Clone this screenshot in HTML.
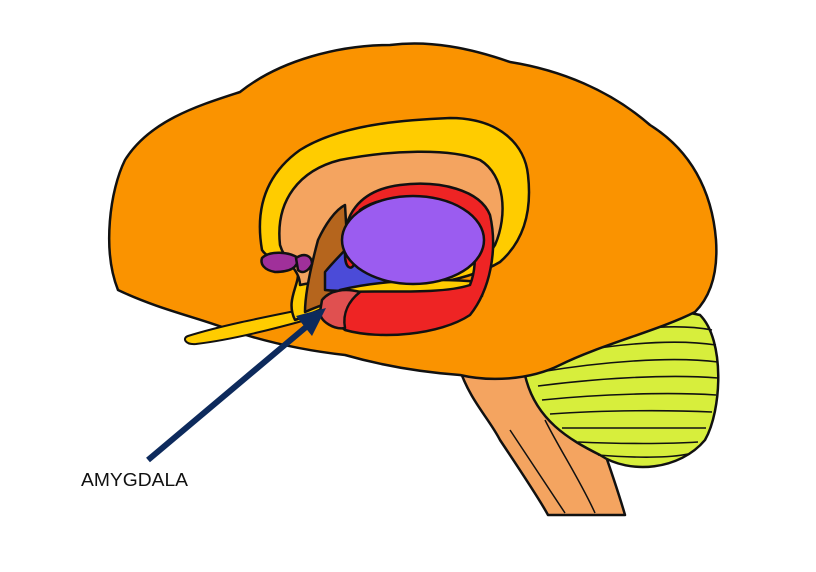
<!DOCTYPE html>
<html><head><style>body{margin:0;background:#fff}svg{display:block}</style></head><body>
<svg width="816" height="572" viewBox="0 0 816 572" xmlns="http://www.w3.org/2000/svg" stroke="#111" stroke-width="2.5" stroke-linejoin="round">
<!-- brainstem -->
<path d="M460,370 C470,400 490,420 500,440 C520,470 540,500 548,515 L625,515 C615,480 600,440 590,410 C580,390 560,375 540,370 Z" fill="#f4a460"/>
<path d="M510,430 C530,460 550,490 565,513 M545,420 C560,450 580,480 595,513" fill="none" stroke-width="1.5"/>
<!-- cerebellum -->
<path d="M525,375 C560,330 640,300 700,315 C725,340 722,410 705,440 C680,470 630,475 600,455 C570,440 535,420 525,375 Z" fill="#d7ee3c"/>
<g fill="none" stroke-width="1.6">
<path d="M560,345 C610,330 670,322 712,330"/><path d="M548,358 C600,345 670,338 716,345"/>
<path d="M540,372 C600,362 670,356 718,362"/><path d="M538,386 C600,378 670,374 718,378"/>
<path d="M542,400 C600,394 670,392 716,395"/><path d="M550,414 C605,410 670,410 712,412"/>
<path d="M562,428 C610,428 670,428 706,428"/><path d="M578,442 C620,444 670,444 698,442"/>
<path d="M598,455 C635,458 670,458 688,454"/>
</g>
<!-- cerebrum -->
<path d="M118,290 C102,250 110,190 125,160 C150,120 200,105 240,92 C280,60 340,45 390,45 C430,40 470,48 510,62 C560,70 610,90 650,125 C690,150 712,190 716,240 C718,270 712,295 695,312 C660,330 600,345 560,365 C530,380 490,382 460,375 C420,372 380,365 345,355 C300,350 260,340 230,330 C200,318 160,310 118,290 Z" fill="#fa9300"/>
<!-- olfactory -->
<path d="M188,336 C220,326 260,318 300,310 L306,320 C270,330 230,340 196,344 C185,345 182,338 188,336 Z" fill="#ffcc00" stroke-width="2"/>
<!-- yellow ring -->
<path d="M262,250 C255,210 265,175 300,150 C340,125 400,120 450,118 C500,118 525,145 528,175 C532,210 525,240 500,262 C470,280 420,288 370,290 C340,300 310,315 295,320 C285,300 300,285 298,270 C290,262 270,262 262,250 Z" fill="#ffcc00"/>
<!-- tan band -->
<path d="M280,245 C275,200 300,170 340,160 C390,150 450,148 480,160 C505,175 508,215 495,245 C480,270 430,280 380,282 C350,282 320,280 300,285 C300,270 285,262 280,245 Z" fill="#f4a460"/>
<!-- brown -->
<path d="M318,240 C325,225 335,210 345,205 L350,290 C340,300 320,305 305,312 C305,295 310,270 318,240 Z" fill="#b5651d"/>
<!-- magenta -->
<path d="M262,258 C270,250 290,252 298,258 C298,268 290,272 275,272 C264,270 260,264 262,258 Z" fill="#a0309a"/>
<path d="M296,258 C305,252 312,256 312,264 C308,272 302,274 298,270 Z" fill="#a0309a"/>
<!-- blue -->
<path d="M325,272 C335,260 345,250 355,240 L390,280 C370,290 340,292 325,290 Z" fill="#4b4bd8"/>
<!-- yellow strip below -->
<path d="M340,290 C380,280 440,278 480,282 L482,296 C440,300 380,300 345,300 Z" fill="#ffcc00"/>
<!-- red C -->
<path d="M345,255 C340,215 360,190 400,185 C440,180 480,190 490,215 C498,250 490,290 470,315 C440,335 380,340 345,330 C330,320 330,300 345,292 C380,290 440,295 470,285 C480,260 475,220 450,205 C420,195 380,195 360,210 C352,225 355,250 355,262 C352,272 345,268 345,255 Z" fill="#ee2424"/>
<!-- purple -->
<ellipse cx="413" cy="240" rx="71" ry="44" fill="#9b5cf0"/>
<!-- amygdala -->
<path d="M322,300 C330,290 345,288 360,292 C350,300 342,312 345,328 C335,330 320,322 320,312 Z" fill="#e05050"/>
<!-- arrow -->
<line x1="148" y1="460" x2="312" y2="322" stroke="#0d2a5c" stroke-width="6"/>
<polygon points="326,308 296,316 312,336" fill="#0d2a5c" stroke="none"/>
<text x="81" y="486" font-family="Liberation Sans, sans-serif" font-size="18" fill="#111" stroke="none" textLength="107" lengthAdjust="spacingAndGlyphs">AMYGDALA</text>
</svg>
</body></html>
